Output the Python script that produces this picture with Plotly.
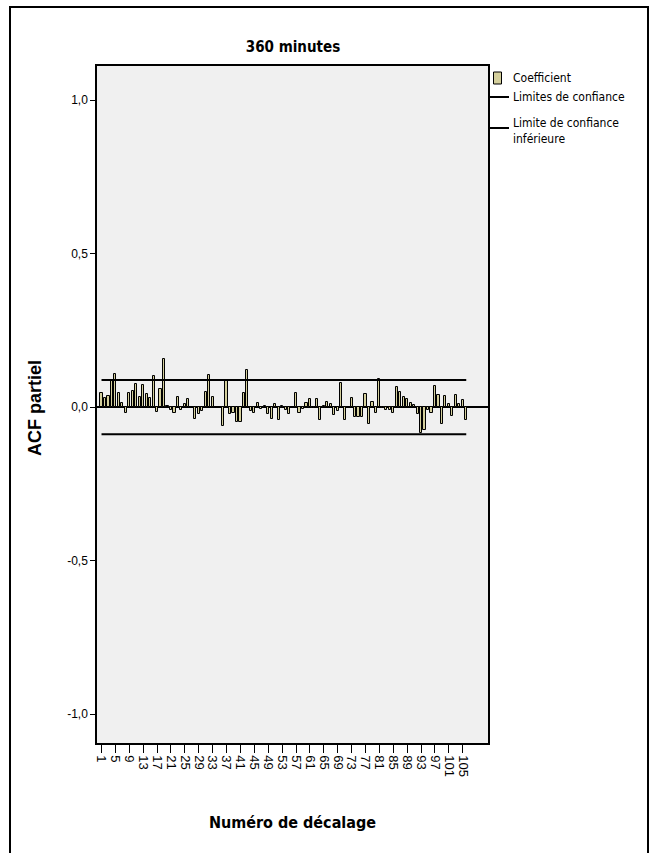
import plotly.graph_objects as go

# Partial autocorrelation by lag, 360-minute series
lags = list(range(1, 107))
pacf = [
    0.046, 0.030, 0.037, 0.087, 0.109, 0.047, 0.014, -0.020, 0.047, 0.054,
    0.076, 0.034, 0.073, 0.043, 0.029, 0.101, -0.017, 0.060, 0.156, 0.004,
    -0.009, -0.020, 0.033, -0.009, 0.010, 0.027, 0.002, -0.038, -0.022, -0.013,
    0.049, 0.104, 0.033, 0.002, -0.001, -0.061, 0.087, -0.022, -0.020, -0.047,
    -0.050, 0.047, 0.121, -0.013, -0.018, 0.015, -0.005, 0.003, -0.024, -0.039,
    0.010, -0.043, 0.005, -0.011, -0.023, 0.001, 0.047, -0.018, -0.005, 0.015,
    0.025, -0.002, 0.028, -0.043, 0.003, 0.017, 0.010, -0.027, -0.013, 0.079,
    -0.043, 0.002, 0.030, -0.033, -0.033, -0.033, 0.043, -0.054, 0.017, -0.018,
    0.092, -0.003, -0.009, -0.009, -0.018, 0.065, 0.049, 0.033, 0.027, 0.015,
    0.007, -0.022, -0.084, -0.074, -0.011, -0.018, 0.068, 0.041, -0.056, 0.035,
    0.009, -0.030, 0.040, 0.011, 0.024, -0.041,
]
conf_upper = 0.088
conf_lower = -0.088

x_ticks = list(range(1, 106, 4))
y_ticks = [-1.0, -0.5, 0.0, 0.5, 1.0]
y_ticktext = ["-1,0", "-0,5", "0,0", "0,5", "1,0"]

legend_labels = ["Coefficient", "Limites de confiance", "Limite de confiance<br>inférieure"]

COND = "DejaVu Sans Condensed, Liberation Sans Narrow, Liberation Sans, Arial, sans-serif"
SANS = "Liberation Sans, Arial, sans-serif"
BAR_FILL = "#d4cf9c"

W, H = 657, 853
L, R, T, B = 97, 488, 66, 743


def px_x(p):
    return (p - L) / (R - L)


def px_y(p):
    return (B - p) / (B - T)


fig = go.Figure()

fig.add_trace(go.Bar(
    x=lags, y=pacf, width=0.62, name=legend_labels[0],
    marker=dict(color=BAR_FILL, line=dict(color="black", width=1)),
    showlegend=False,
))
fig.add_trace(go.Scatter(
    x=[lags[0], lags[-1]], y=[conf_upper, conf_upper], mode="lines",
    line=dict(color="black", width=2), name=legend_labels[1], showlegend=False,
))
fig.add_trace(go.Scatter(
    x=[lags[0], lags[-1]], y=[conf_lower, conf_lower], mode="lines",
    line=dict(color="black", width=2), name=legend_labels[2], showlegend=False,
))

shapes = [
    # outer frame
    dict(type="rect", xref="paper", yref="paper",
         x0=px_x(10), x1=px_x(648), y0=px_y(870), y1=px_y(7),
         line=dict(color="black", width=2), fillcolor="rgba(0,0,0,0)", layer="below"),
    # legend swatch and line keys
    dict(type="rect", xref="paper", yref="paper",
         x0=px_x(493.5), x1=px_x(501.5), y0=px_y(84), y1=px_y(72),
         line=dict(color="black", width=1), fillcolor=BAR_FILL),
    dict(type="line", xref="paper", yref="paper",
         x0=px_x(488), x1=px_x(509), y0=px_y(97), y1=px_y(97),
         line=dict(color="black", width=2)),
    dict(type="line", xref="paper", yref="paper",
         x0=px_x(488), x1=px_x(509), y0=px_y(128), y1=px_y(128),
         line=dict(color="black", width=2)),
]

annotations = [
    dict(text=legend_labels[0], xref="paper", yref="paper", x=px_x(511), y=px_y(78),
         xanchor="left", yanchor="middle", showarrow=False,
         font=dict(family=COND, size=12, color="black")),
    dict(text=legend_labels[1], xref="paper", yref="paper", x=px_x(511), y=px_y(97),
         xanchor="left", yanchor="middle", showarrow=False,
         font=dict(family=COND, size=12, color="black")),
    dict(text=legend_labels[2], xref="paper", yref="paper", x=px_x(511), y=px_y(131),
         xanchor="left", yanchor="middle", align="left", showarrow=False,
         font=dict(family=COND, size=12, color="black")),
    dict(text="ACF partiel", xref="paper", yref="paper", x=px_x(35), y=px_y(408),
         xanchor="center", yanchor="middle", textangle=-90, showarrow=False,
         font=dict(family=SANS, size=18, color="black", weight="bold")),
]

fig.update_layout(
    width=W, height=H,
    margin=dict(l=L, r=W - R, t=T, b=H - B, pad=0),
    paper_bgcolor="white",
    plot_bgcolor="#f0f0f0",
    title=dict(text="360 minutes", xref="paper", x=px_x(293), xanchor="center",
               y=1 - 47 / H, yanchor="middle",
               font=dict(family=COND, size=15, color="black", weight="bold")),
    xaxis=dict(
        range=[-0.3, 112.26], tickmode="array", tickvals=x_ticks,
        ticktext=[str(v) for v in x_ticks], tickangle=90,
        ticks="outside", ticklen=8, tickwidth=1, tickcolor="black",
        showgrid=False, zeroline=False,
        showline=True, linecolor="black", linewidth=1.5, mirror=True,
        tickfont=dict(family=SANS, size=13, color="black"),
        title=dict(text="Numéro de décalage", standoff=41,
                   font=dict(family=COND, size=16, color="black", weight="bold")),
    ),
    yaxis=dict(
        range=[-1.094, 1.111], tickmode="array", tickvals=y_ticks,
        ticktext=y_ticktext, ticks="outside", ticklen=5, tickwidth=1,
        tickcolor="black", showgrid=False,
        zeroline=True, zerolinecolor="black", zerolinewidth=2,
        showline=True, linecolor="black", linewidth=1.5, mirror=True,
        tickfont=dict(family=SANS, size=12, color="black"),
    ),
    shapes=shapes,
    annotations=annotations,
    bargap=0,
)

fig.write_html("out.html")
